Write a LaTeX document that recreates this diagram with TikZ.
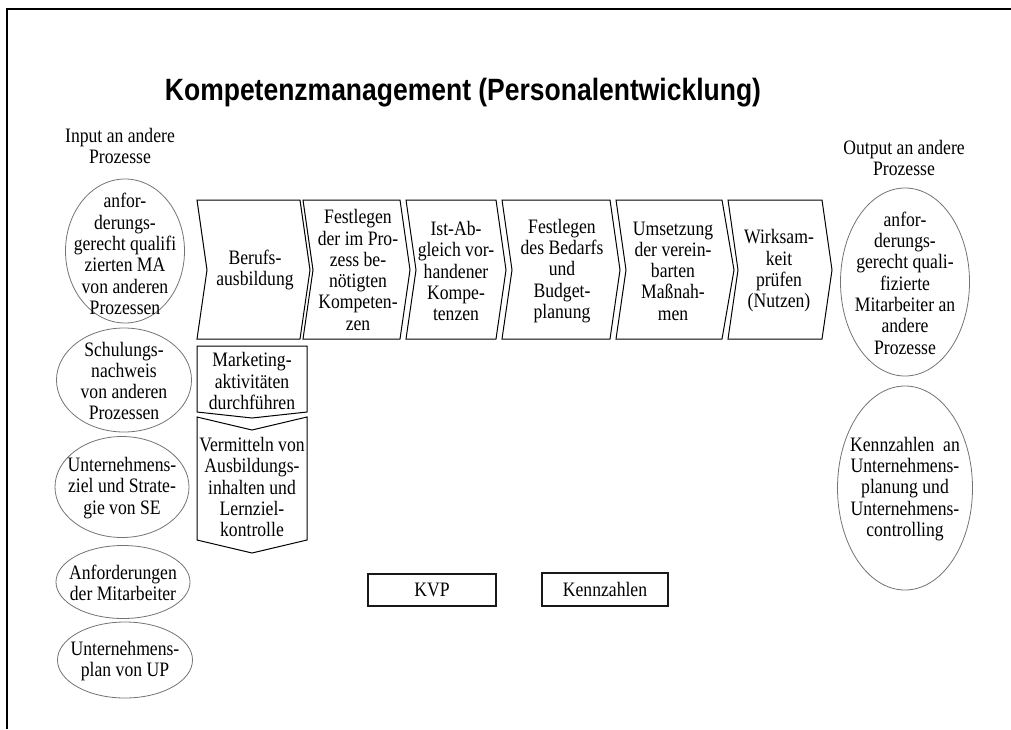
\documentclass[tikz,border=0pt]{standalone}
\usepackage{fontspec}
\setmainfont[FakeStretch=0.86]{Liberation Serif}
\newfontfamily\titlefont[FakeStretch=0.86]{Liberation Sans}
\usetikzlibrary{shapes.geometric}
\tikzset{
  txt/.style={align=center, inner sep=0pt, font=\fontsize{20.5}{21.3}\selectfont},
  ell/.style={ellipse, draw=black!55, line width=0.8pt, inner sep=0pt},
  chev/.style={draw=black, line width=1pt, line join=miter},
  kbox/.style={draw=black!90, line width=2pt, inner sep=0pt},
  frame/.style={draw=black, line width=2pt}
}
\newcommand\mychev[3]{%
  \draw[chev] (#1,200) -- (#2,200) -- (#3,270) -- (#2,339) -- (#1,339) -- ({#1+10},270) -- cycle;}
\begin{document}
\begin{tikzpicture}[x=1pt,y=-1pt]
\useasboundingbox (0,0) rectangle (1011,729);
% frame
\draw[frame] (7,729) -- (7,9) -- (1011,9);
% title
\node[anchor=base, inner sep=0pt, font=\titlefont\bfseries\fontsize{30.8}{34}\selectfont] (title) at (463,100) {Kompetenzmanagement (Personalentwicklung)};
% side labels
\node[txt] (inlab) at (120,146) {Input an andere\\Prozesse};
\node[txt] (outlab) at (904,158) {Output an andere\\Prozesse};
% chevrons
\mychev{197}{300}{310}
\mychev{303}{400}{410}
\mychev{406}{496}{506}
\mychev{502}{610}{620}
\mychev{616}{722}{734}
\mychev{728}{822}{832}
\node[txt] (c1) at (255,270) {Berufs-\\ausbildung};
\node[txt] (c2) at (358,270) {Festlegen\\der im Pro-\\zess be-\\nötigten\\Kompeten-\\zen};
\node[txt] (c3) at (456,271) {Ist-Ab-\\gleich vor-\\handener\\Kompe-\\tenzen};
\node[txt] (c4) at (562,271) {Festlegen\\des Bedarfs\\und\\Budget-\\planung};
\node[txt] (c5) at (673,271) {Umsetzung\\der verein-\\barten\\Maßnah-\\men};
\node[txt] (c6) at (779,271) {Wirksam-\\keit\\prüfen\\(Nutzen)};
% marketing / vermitteln
\draw[chev] (197,346) -- (307,346) -- (307,412) -- (252,418) -- (197,412) -- cycle;
\draw[chev] (197,417) -- (252,430) -- (307,417) -- (307,540) -- (252,553) -- (197,540) -- cycle;
\node[txt] (m1) at (252,381) {Marketing-\\aktivitäten\\durchführen};
\node[txt] (m2) at (252,487) {Vermitteln von\\Ausbildungs-\\inhalten und\\Lernziel-\\kontrolle};
% left ellipses
\node[ell, minimum width=119pt, minimum height=144pt] (l1) at (125,251) {};
\node[txt] (l1t) at (125,254) {anfor-\\derungs-\\gerecht qualifi\\zierten MA\\von anderen\\Prozessen};
\node[ell, minimum width=135pt, minimum height=104pt] (l2) at (124,380) {};
\node[txt] (l2t) at (124,381) {Schulungs-\\nachweis\\von anderen\\Prozessen};
\node[ell, minimum width=134pt, minimum height=101pt] (l3) at (122,487) {};
\node[txt] (l3t) at (122,488) {Unternehmens-\\ziel und Strate-\\gie von SE};
\node[ell, minimum width=134pt, minimum height=73pt] (l4) at (123,582) {};
\node[txt] (l4t) at (123,583) {Anforderungen\\der Mitarbeiter};
\node[ell, minimum width=135pt, minimum height=76pt] (l5) at (125,660) {};
\node[txt] (l5t) at (125,661) {Unternehmens-\\plan von UP};
% right ellipses
\node[ell, minimum width=129pt, minimum height=188pt] (r1) at (905,282) {};
\node[txt] (r1t) at (905,283) {anfor-\\derungs-\\gerecht quali-\\fizierte\\Mitarbeiter an\\andere\\Prozesse};
\node[ell, minimum width=135pt, minimum height=204pt] (r2) at (905,488) {};
\node[txt] (r2t) at (905,489) {Kennzahlen~~an\\Unternehmens-\\planung und\\Unternehmens-\\controlling};
% boxes
\node[kbox, minimum width=128pt, minimum height=32pt] (kvp) at (432,590) {};
\node[txt] (kvpt) at (kvp) {KVP};
\node[kbox, minimum width=126pt, minimum height=33pt] (kz) at (605,589.5) {};
\node[txt] (kzt) at (kz) {Kennzahlen};
\end{tikzpicture}
\end{document}
